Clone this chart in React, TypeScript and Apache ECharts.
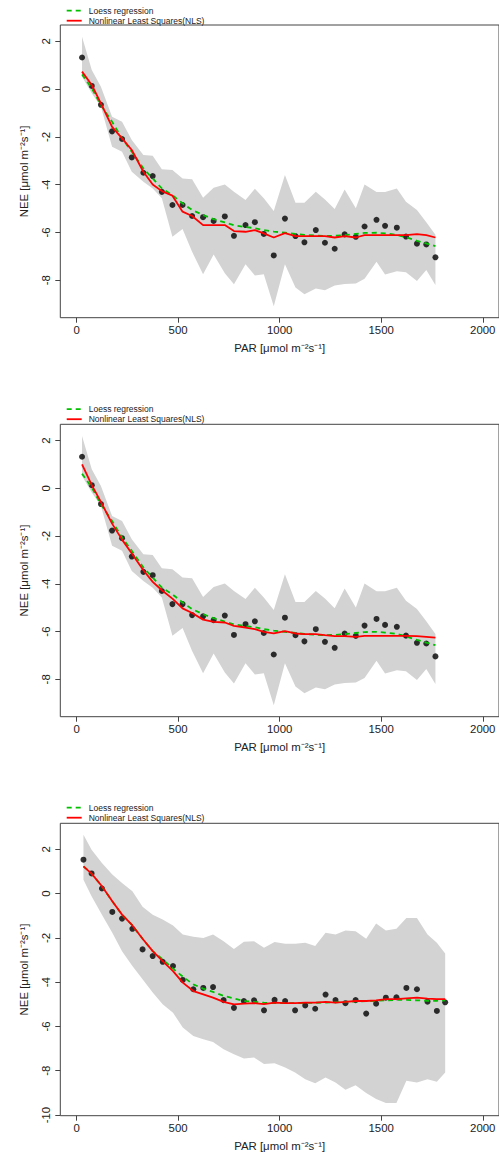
import React, { useEffect, useRef } from "react";
import * as echarts from "echarts";

// ---------- data: panels 1 & 2 share points, band and loess ----------
const PAR_A = [27, 75, 120, 175, 224, 272, 329, 375, 420, 472, 522, 569, 623, 675, 730, 775, 832, 878, 922, 971, 1026, 1078, 1122, 1178, 1223, 1271, 1320, 1375, 1418, 1477, 1519, 1577, 1622, 1676, 1722, 1767];
const NEE_A = [1.32, 0.13, -0.66, -1.77, -2.09, -2.86, -3.5, -3.64, -4.3, -4.85, -4.85, -5.31, -5.36, -5.52, -5.33, -6.14, -5.69, -5.57, -6.06, -6.96, -5.42, -6.15, -6.41, -5.9, -6.43, -6.68, -6.08, -6.18, -5.75, -5.47, -5.72, -5.8, -6.17, -6.47, -6.5, -7.04];
const UPPER_A = [2.19, 0.8, 0.1, -1.16, -1.37, -2.13, -2.76, -2.79, -3.35, -3.39, -3.74, -3.77, -4.55, -4.13, -3.99, -4.3, -4.64, -4.17, -4.57, -5.1, -3.6, -4.76, -4.76, -4.3, -4.62, -5.02, -4.2, -4.99, -3.99, -4.31, -4.31, -4.16, -4.71, -5.06, -5.57, -6.1];
const LOWER_A = [0.52, -0.18, -0.74, -2.41, -2.62, -3.46, -3.88, -4.16, -4.57, -6.18, -5.85, -6.81, -7.75, -6.92, -7.71, -8.17, -7.33, -7.8, -7.75, -9.09, -7.33, -8.3, -8.58, -8.34, -8.42, -8.22, -8.15, -8.13, -7.94, -7.22, -7.76, -7.62, -7.66, -8.03, -7.57, -8.2];
const LOESS_A = [0.61, 0.03, -0.67, -1.37, -2.06, -2.62, -3.32, -3.74, -4.16, -4.44, -4.78, -5.06, -5.27, -5.44, -5.58, -5.7, -5.77, -5.82, -5.9, -5.96, -6.01, -6.06, -6.1, -6.13, -6.15, -6.14, -6.11, -6.06, -6.02, -6.01, -6.04, -6.1, -6.2, -6.35, -6.46, -6.57];
const NLS_1 = [0.73, 0.17, -0.6, -1.58, -2.06, -2.55, -3.46, -3.99, -4.27, -4.46, -5.13, -5.31, -5.69, -5.69, -5.69, -5.94, -5.97, -5.9, -6.04, -6.21, -6.03, -6.15, -6.15, -6.15, -6.15, -6.21, -6.15, -6.21, -6.11, -6.11, -6.11, -6.11, -6.11, -6.07, -6.11, -6.21];
const NLS_2 = [1.0, 0.13, -0.57, -1.48, -2.15, -2.73, -3.43, -3.92, -4.27, -4.62, -5.03, -5.22, -5.5, -5.59, -5.62, -5.76, -5.83, -5.9, -6.01, -6.08, -5.98, -6.08, -6.11, -6.11, -6.15, -6.19, -6.19, -6.22, -6.18, -6.18, -6.18, -6.18, -6.18, -6.19, -6.22, -6.25];

// ---------- data: panel 3 ----------
const PAR_C = [34, 74, 125, 176, 224, 275, 325, 375, 424, 475, 523, 575, 624, 672, 724, 775, 824, 874, 923, 975, 1027, 1076, 1126, 1175, 1226, 1275, 1324, 1374, 1426, 1475, 1523, 1575, 1624, 1676, 1728, 1774, 1815];
const NEE_C = [1.53, 0.91, 0.23, -0.83, -1.13, -1.59, -2.52, -2.82, -3.08, -3.27, -3.9, -4.32, -4.26, -4.22, -4.81, -5.16, -4.85, -4.82, -5.27, -4.8, -4.85, -5.27, -5.05, -5.2, -4.56, -4.81, -4.95, -4.81, -5.42, -4.97, -4.7, -4.68, -4.26, -4.32, -4.88, -5.3, -4.91];
const UPPER_C = [2.66, 1.98, 1.38, 0.86, 0.48, 0.11, -0.6, -0.95, -1.17, -1.44, -1.85, -1.95, -2.0, -1.85, -2.15, -2.5, -2.18, -2.15, -2.45, -2.19, -2.27, -2.27, -2.22, -2.37, -1.77, -1.85, -1.67, -1.7, -2.04, -1.35, -1.67, -1.59, -1.1, -1.1, -1.85, -2.22, -2.7];
const LOWER_C = [0.63, -0.12, -0.95, -1.77, -2.6, -3.27, -3.87, -4.47, -5.0, -5.38, -6.05, -6.43, -6.58, -6.7, -7.03, -7.25, -7.45, -7.4, -7.7, -7.66, -7.85, -8.08, -8.38, -8.57, -8.3, -8.53, -8.86, -8.65, -9.01, -9.28, -9.46, -9.46, -8.45, -8.53, -8.38, -8.5, -8.08];
const LOESS_C = [1.23, 0.9, 0.33, -0.35, -0.95, -1.44, -2.04, -2.6, -2.97, -3.39, -3.75, -4.1, -4.29, -4.44, -4.62, -4.74, -4.85, -4.89, -4.93, -4.95, -4.95, -4.95, -4.94, -4.93, -4.92, -4.91, -4.89, -4.87, -4.86, -4.84, -4.82, -4.8, -4.8, -4.82, -4.84, -4.84, -4.82];
const NLS_3 = [1.23, 0.9, 0.33, -0.35, -0.95, -1.44, -2.04, -2.6, -3.05, -3.5, -4.02, -4.4, -4.55, -4.7, -4.89, -5.0, -4.97, -4.95, -4.99, -4.92, -4.95, -4.95, -4.92, -4.92, -4.89, -4.92, -4.89, -4.85, -4.85, -4.82, -4.77, -4.77, -4.73, -4.7, -4.74, -4.77, -4.77];

// ---------- ticks & texts ----------
const X_TICKS = [0, 500, 1000, 1500, 2000];
const Y_TICKS_AB = [-8, -6, -4, -2, 0, 2];
const Y_TICKS_C = [-10, -8, -6, -4, -2, 0, 2];
const X_TITLE = "PAR [\u03bcmol m\u207b\u00b2s\u207b\u00b9]";
const Y_TITLE = "NEE [\u03bcmol m\u207b\u00b2s\u207b\u00b9]";
const LEGEND_LABELS = ["Loess regression", "Nonlinear Least Squares(NLS)"];

const FONT = '"Liberation Sans", Arial, Helvetica, sans-serif';
const GREEN = "#00c000";
const RED = "#ff0000";
const BAND = "#d3d3d3";
const INK = "#222222";
const FRAME = "#444444";

const PANELS = [
  { par: PAR_A, nee: NEE_A, up: UPPER_A, lo: LOWER_A, loess: LOESS_A, nls: NLS_1, yTicks: Y_TICKS_AB, ymin: -9.565, ymax: 2.68, top: 25, height: 292.7, legendY: 10.7 },
  { par: PAR_A, nee: NEE_A, up: UPPER_A, lo: LOWER_A, loess: LOESS_A, nls: NLS_2, yTicks: Y_TICKS_AB, ymin: -9.565, ymax: 2.68, top: 424.3, height: 292.4, legendY: 409.2 },
  { par: PAR_C, nee: NEE_C, up: UPPER_C, lo: LOWER_C, loess: LOESS_C, nls: NLS_3, yTicks: Y_TICKS_C, ymin: -10.03, ymax: 3.174, top: 823.3, height: 292.4, legendY: 807.7 },
];

function bandRenderItem(params: any, api: any) {
  if (params.dataIndex !== 0) return null;
  const n = params.dataInsideLength;
  const top: number[][] = [];
  const bottom: number[][] = [];
  for (let k = 0; k < n; k++) {
    const x = api.value(0, k);
    top.push(api.coord([x, api.value(1, k)]));
    bottom.push(api.coord([x, api.value(2, k)]));
  }
  const points = top.concat(bottom.reverse());
  return {
    type: "polygon",
    shape: { points },
    style: { fill: BAND, stroke: null },
    silent: true,
  };
}

function buildOption() {
  const grid: any[] = [];
  const xAxis: any[] = [];
  const yAxis: any[] = [];
  const series: any[] = [];
  const graphic: any[] = [];

  PANELS.forEach((p, i) => {
    grid.push({
      left: 60.3,
      top: p.top,
      width: 443.9,
      height: p.height,
      show: true,
      borderColor: FRAME,
      borderWidth: 1,
      backgroundColor: "transparent",
      containLabel: false,
    });
    xAxis.push({
      type: "value",
      gridIndex: i,
      min: -80,
      max: 2080,
      splitLine: { show: false },
      axisLine: { show: false, onZero: false },
      axisTick: { show: true, length: 5, customValues: X_TICKS, lineStyle: { color: FRAME } },
      axisLabel: {
        show: true,
        customValues: X_TICKS,
        margin: 7,
        fontSize: 11.4,
        fontFamily: FONT,
        color: INK,
        formatter: (v: number) => String(v),
      },
      name: X_TITLE,
      nameLocation: "middle",
      nameGap: 25,
      nameTextStyle: { fontSize: 11.4, fontFamily: FONT, color: INK },
    });
    yAxis.push({
      type: "value",
      gridIndex: i,
      min: p.ymin,
      max: p.ymax,
      splitLine: { show: false },
      axisLine: { show: false, onZero: false },
      axisTick: { show: true, length: 5, customValues: p.yTicks, lineStyle: { color: FRAME } },
      axisLabel: {
        show: true,
        customValues: p.yTicks,
        rotate: 90,
        margin: 9,
        fontSize: 11.4,
        fontFamily: FONT,
        color: INK,
        formatter: (v: number) => String(v),
      },
      name: Y_TITLE,
      nameLocation: "middle",
      nameRotate: 90,
      nameGap: 31,
      nameTextStyle: { fontSize: 11.4, fontFamily: FONT, color: INK },
    });

    series.push({
      type: "custom",
      xAxisIndex: i,
      yAxisIndex: i,
      renderItem: bandRenderItem,
      encode: { x: 0, y: [1, 2] },
      data: p.par.map((x, k) => [x, p.up[k], p.lo[k]]),
      silent: true,
      z: 1,
    });
    series.push({
      type: "scatter",
      xAxisIndex: i,
      yAxisIndex: i,
      symbol: "circle",
      symbolSize: 6,
      itemStyle: { color: "#000000" },
      data: p.par.map((x, k) => [x, p.nee[k]]),
      z: 2,
    });
    series.push({
      type: "line",
      name: LEGEND_LABELS[0],
      xAxisIndex: i,
      yAxisIndex: i,
      symbol: "none",
      lineStyle: { color: GREEN, width: 1.8, type: [5, 4] },
      data: p.par.map((x, k) => [x, p.loess[k]]),
      z: 3,
    });
    series.push({
      type: "line",
      name: LEGEND_LABELS[1],
      xAxisIndex: i,
      yAxisIndex: i,
      symbol: "none",
      lineStyle: { color: RED, width: 1.8 },
      data: p.par.map((x, k) => [x, p.nls[k]]),
      z: 4,
    });

    const ly = p.legendY;
    const items = [
      { color: GREEN, dash: [5, 4], y: ly },
      { color: RED, dash: null, y: ly + 10 },
    ];
    items.forEach((it, j) => {
      graphic.push({
        type: "line",
        shape: { x1: 66.7, y1: it.y, x2: 81.7, y2: it.y },
        style: { stroke: it.color, lineWidth: 1.8, lineDash: it.dash || undefined },
        silent: true,
      });
      graphic.push({
        type: "text",
        x: 88.7,
        y: it.y,
        style: {
          text: LEGEND_LABELS[j],
          font: `8.5px ${FONT}`,
          fill: INK,
          textAlign: "left",
          textVerticalAlign: "middle",
          align: "left",
          verticalAlign: "middle",
        },
        silent: true,
      });
    });
  });

  return {
    animation: false,
    backgroundColor: "#ffffff",
    textStyle: { fontFamily: FONT },
    grid,
    xAxis,
    yAxis,
    series,
    graphic,
  };
}

export default function App() {
  const ref = useRef<HTMLDivElement>(null);
  useEffect(() => {
    if (!ref.current) return;
    const chart = echarts.init(ref.current, undefined, { renderer: "svg" });
    chart.setOption(buildOption() as any);
    return () => chart.dispose();
  }, []);
  return (
    <div
      ref={ref}
      style={{ position: "absolute", left: 0, top: 0, width: 499, height: 1155, background: "#fff" }}
    />
  );
}
